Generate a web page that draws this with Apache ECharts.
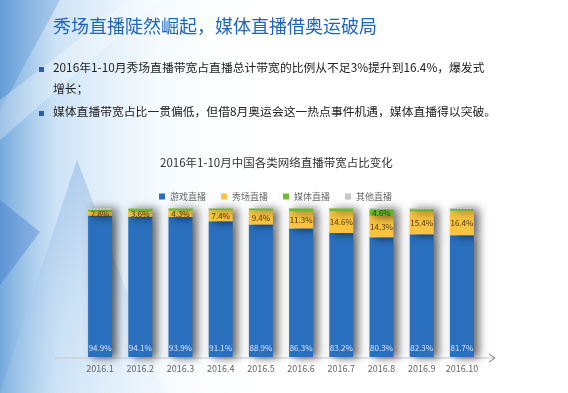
<!DOCTYPE html>
<html><head><meta charset="utf-8">
<script src="https://cdn.jsdelivr.net/npm/echarts@6/dist/echarts.min.js"></script>
<style>html,body{margin:0;padding:0;background:#fff}#c{width:568px;height:393px}</style>
</head><body><div id="c"></div>
<script>
var categories = ['2016.1','2016.2','2016.3','2016.4','2016.5','2016.6','2016.7','2016.8','2016.9','2016.10'];
var gameShare  = [94.9, 94.1, 93.9, 91.1, 88.9, 86.3, 83.2, 80.3, 82.3, 81.7];
var showShare  = [2.8, 3.6, 4.3, 7.4, 9.4, 11.3, 14.6, 14.3, 15.4, 16.4];
var mediaShare = [1.0, 2.0, 1.6, 1.3, 1.5, 2.2, 2.0, 4.6, 1.5, 1.2];
var otherShare = [1.3, 0.3, 0.2, 0.2, 0.2, 0.2, 0.2, 0.8, 0.8, 0.7];
var seriesNames = ['游戏直播','秀场直播','媒体直播','其他直播'];
var pageTitle = '秀场直播陡然崛起，媒体直播借奥运破局';
var bullet1a = '2016年1-10月秀场直播带宽占直播总计带宽的比例从不足3%提升到16.4%，爆发式';
var bullet1b = '增长；';
var bullet2 = '媒体直播带宽占比一贯偏低，但借8月奥运会这一热点事件机遇，媒体直播得以突破。';
var chartTitle = '2016年1-10月中国各类网络直播带宽占比变化';

var FONT = '"Noto Sans CJK SC", "Noto Sans", sans-serif';
var chart = echarts.init(document.getElementById('c'));
var shadow = {shadowColor:'rgba(0,0,0,0.6)', shadowBlur:8, shadowOffsetX:5, shadowOffsetY:1};
function pct(p){ return p.value.toFixed(1) + '%'; }

chart.setOption({
  animation:false,
  backgroundColor:'#fff',
  textStyle:{fontFamily:FONT},
  title:{text:chartTitle, top:157, left:160, padding:0,
    textStyle:{fontSize:11.5, fontWeight:'normal', color:'#333', fontFamily:FONT}},
  legend:{data:seriesNames, top:187, left:154, itemWidth:6, itemHeight:6, itemGap:15,
    icon:'rect', textStyle:{fontSize:9, color:'#666', fontFamily:FONT}},
  grid:{left:80, right:86, top:208, bottom:36},
  xAxis:{type:'category', data:categories, axisLine:{show:false}, axisTick:{show:false},
    axisLabel:{interval:0, fontSize:9, color:'#666', margin:7, fontFamily:FONT}},
  yAxis:{type:'value', min:0, max:100, show:false},
  graphic:[
    {type:'rect', z:-10, shape:{x:0,y:0,width:568,height:393},
      style:{fill:new echarts.graphic.LinearGradient(0,0,1,0,[
        {offset:0,color:'rgba(70,140,210,0.75)'},
        {offset:0.1,color:'rgba(130,185,232,0.4)'},
        {offset:0.28,color:'rgba(215,235,250,0.25)'},
        {offset:0.5,color:'rgba(255,255,255,0)'}])}},
    {type:'polygon', z:-9, shape:{points:[[0,393],[77,160],[165,393]]},
      style:{fill:new echarts.graphic.LinearGradient(0,0,0,1,[
        {offset:0,color:'rgba(100,150,215,0.35)'},{offset:1,color:'rgba(210,230,248,0.15)'}])}},
    {type:'polygon', z:-9, shape:{points:[[0,0],[60,0],[0,110]]},
      style:{fill:'rgba(50,120,200,0.25)'}},
    {type:'polygon', z:-9, shape:{points:[[0,200],[40,232],[0,285]]},
      style:{fill:'rgba(40,100,195,0.3)'}},
    {type:'polygon', z:-9, shape:{points:[[0,100],[130,0],[160,0],[0,140]]},
      style:{fill:'rgba(255,255,255,0.3)'}},
    {type:'text', left:53, top:17, style:{text:pageTitle, fontSize:18, fill:'#1f66b9', fontFamily:FONT}},
    {type:'rect', shape:{x:39,y:67,width:5,height:5}, style:{fill:'#2a5fae'}},
    {type:'text', left:53, top:62, style:{text:bullet1a, fontSize:11.8, fill:'#222', fontFamily:FONT}},
    {type:'text', left:53, top:83, style:{text:bullet1b, fontSize:11.8, fill:'#222', fontFamily:FONT}},
    {type:'rect', shape:{x:39,y:111,width:5,height:5}, style:{fill:'#2a5fae'}},
    {type:'text', left:53, top:106, style:{text:bullet2, fontSize:11.8, fill:'#222', fontFamily:FONT}},
    {type:'polyline', shape:{points:[[55,358],[495,358]]}, style:{stroke:'#c8c8c8', lineWidth:1}},
    {type:'polyline', shape:{points:[[489,354],[495,358],[489,362]]}, style:{stroke:'#777', lineWidth:1, fill:null}}
  ],
  series:[
    {name:seriesNames[0], type:'bar', stack:'s', barWidth:24, data:gameShare,
      itemStyle:Object.assign({color:'#2a6fbd'}, shadow),
      label:{show:true, position:'insideBottom', distance:5, fontSize:8, color:'#d6e4f7', formatter:pct}},
    {name:seriesNames[1], type:'bar', stack:'s', data:showShare,
      itemStyle:Object.assign({color:'#f9c33f'}, shadow),
      label:{show:true, position:'inside', fontSize:8, color:'#4a3a10', formatter:pct}},
    {name:seriesNames[2], type:'bar', stack:'s', data:mediaShare,
      itemStyle:Object.assign({color:'#6bbf2d'}, shadow),
      label:{show:true, position:'inside', fontSize:8, color:'#2a3a10',
        formatter:function(p){ return p.value >= 3 ? pct(p) : ''; }}},
    {name:seriesNames[3], type:'bar', stack:'s', data:otherShare,
      itemStyle:Object.assign({color:'#b4b4b4',
        decal:{symbol:'rect', symbolSize:1, dashArrayX:[1,0], dashArrayY:[1,1], rotation:-0.7, color:'rgba(255,255,255,0.5)'}}, shadow)}
  ]
});
</script></body></html>
